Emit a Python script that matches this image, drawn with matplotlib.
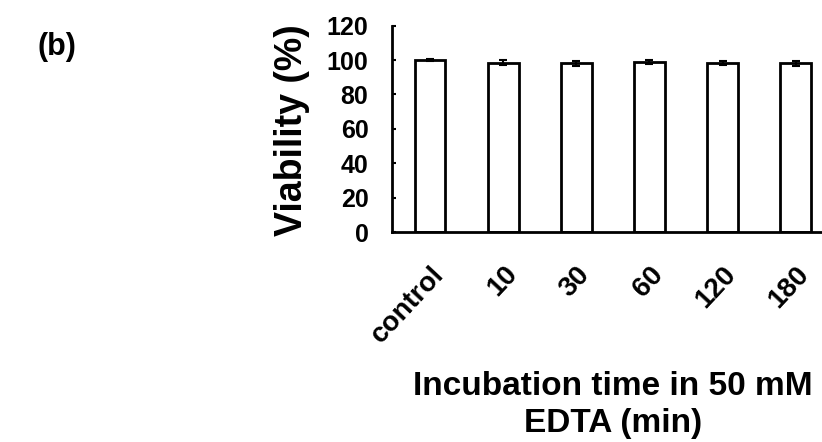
import matplotlib
matplotlib.use('Agg')
import matplotlib.pyplot as plt

plt.rcParams['font.family'] = ['Liberation Sans', 'DejaVu Sans']
plt.rcParams['font.weight'] = 'bold'

# data
categories = ['control', '10', '30', '60', '120', '180']
viability = [100, 98.5, 98, 99, 98.5, 98]
errors = [0.8, 1.5, 1.2, 1.3, 1.2, 1.2]
y_ticks = [0, 20, 40, 60, 80, 100, 120]

fig = plt.figure(figsize=(8.22, 4.42), dpi=100)
ax = fig.add_axes([0.477, 0.475, 0.523, 0.467])

x = list(range(len(categories)))
ax.bar(x, viability, width=0.42, color='white', edgecolor='black', linewidth=2,
       yerr=errors, error_kw=dict(ecolor='black', elinewidth=1.5, capsize=3, capthick=1.5))

ax.set_xlim(-0.52, 5.36)
ax.set_ylim(0, 120)
ax.set_yticks(y_ticks)
ax.set_xticks(x)
ax.set_xticklabels(categories, rotation=47, ha='right', rotation_mode='anchor', fontsize=20, fontweight='bold')
ax.tick_params(axis='x', length=0, pad=21)
ax.tick_params(axis='y', direction='in', length=3, width=1.5, labelsize=18, pad=17)
for lab in ax.get_yticklabels():
    lab.set_fontweight('bold')

ax.spines['top'].set_visible(False)
ax.spines['right'].set_visible(False)
ax.spines['left'].set_linewidth(2)
ax.spines['bottom'].set_linewidth(2)

fig.text(0.355, 0.706, 'Viability (%)', rotation=90, ha='center', va='center',
         fontsize=27, fontweight='bold')
fig.text(0.746, 0.084, 'Incubation time in 50 mM\nEDTA (min)', ha='center', va='center',
         fontsize=24, fontweight='bold', linespacing=1.22)
fig.text(0.046, 0.894, '(b)', ha='left', va='center', fontsize=22, fontweight='bold')

fig.savefig('out.png', dpi=100)
